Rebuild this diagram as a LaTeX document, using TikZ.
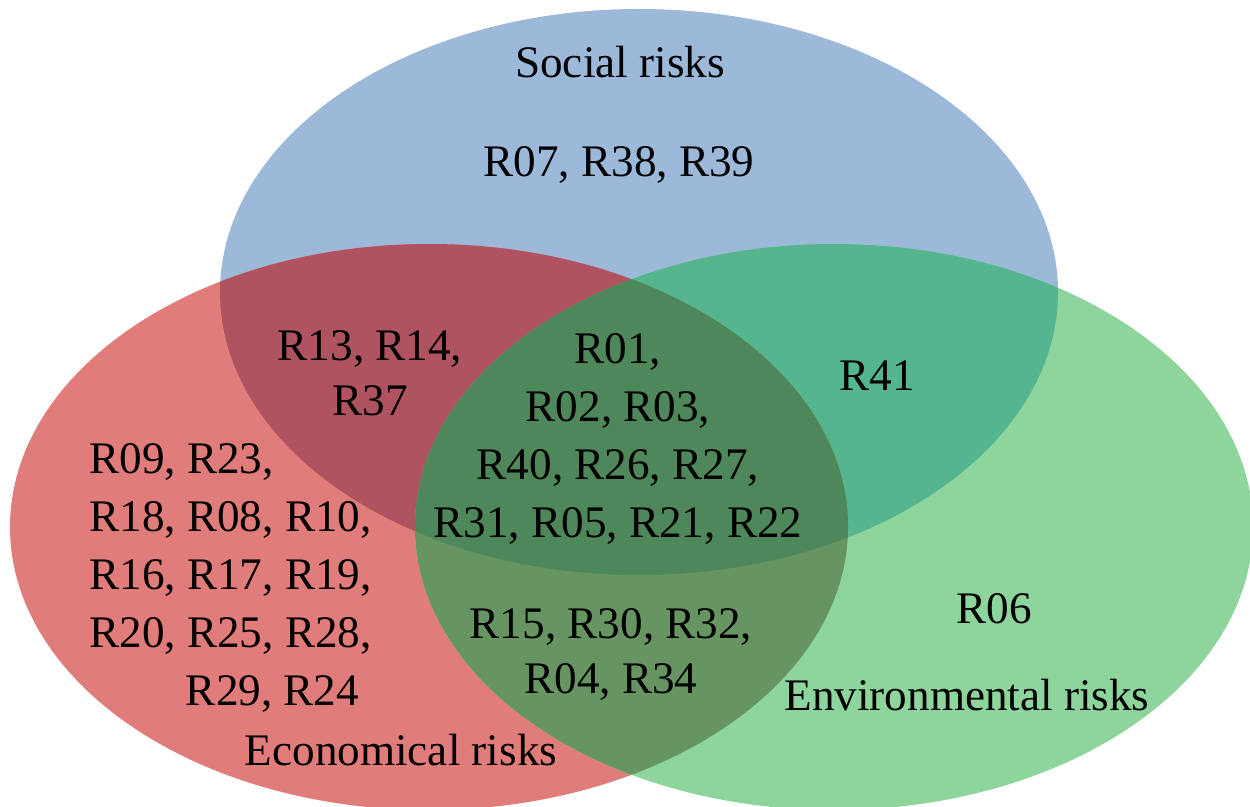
\documentclass[tikz,border=0pt]{standalone}
\usepackage{fontspec}
\setmainfont{Liberation Serif}
\definecolor{socialblue}{RGB}{157,185,218}
\definecolor{ecored}{RGB}{224,124,122}
\definecolor{envgreen}{RGB}{141,212,157}
\definecolor{socecored}{RGB}{176,83,97}
\definecolor{socenvgreen}{RGB}{84,181,143}
\definecolor{ecoenvgreen}{RGB}{102,149,98}
\definecolor{allgreen}{RGB}{78,135,89}
\begin{document}
\begin{tikzpicture}[x=0.02cm, y=-0.02cm,
  every node/.style = {inner sep=0pt, anchor=base,
    font=\fontsize{25.7}{33}\selectfont},
  risks/.style = {align=center},
  tight/.style = {align=center, font=\fontsize{25.7}{31.3}\selectfont},
  set/.style = {x radius=419, y radius=283}]
  \useasboundingbox (0,0) rectangle (1250,807);
  \clip (0,0) rectangle (1250,807);
  \coordinate (soc) at (639,292);
  \coordinate (eco) at (429,527);
  \coordinate (env) at (834,527);
  % the three sets
  \fill[socialblue] (soc) ellipse [set];
  \fill[ecored] (eco) ellipse [set];
  \fill[envgreen] (env) ellipse [set];
  % overlaps
  \begin{scope}
    \clip (soc) ellipse [set];
    \fill[socecored] (eco) ellipse [set];
    \fill[socenvgreen] (env) ellipse [set];
  \end{scope}
  \begin{scope}
    \clip (eco) ellipse [set];
    \fill[ecoenvgreen] (env) ellipse [set];
    \clip (env) ellipse [set];
    \fill[allgreen] (soc) ellipse [set];
  \end{scope}
  % labels (base = last line)
  \node (social) at (620,78) {Social risks};
  \node (socOnly) at (619,177) {R07, R38, R39};
  \node[tight] (socEco) at (370,415) {R13, R14,\\R37};
  \node[risks] (all) at (618,537) {R01,\\R02, R03,\\R40, R26, R27,\\R31, R05, R21, R22};
  \node (socEnv) at (877,390) {R41};
  \node[align=left, anchor=base west] (ecoOnly) at (89,705)
    {R09, R23,\\R18, R08, R10,\\R16, R17, R19,\\R20, R25, R28,\\\hspace*{55pt}R29, R24};
  \node[tight] (ecoEnv) at (611,693) {R15, R30, R32,\\R04, R34};
  \node (envOnly) at (994,623) {R06};
  \node (economical) at (401,765) {Economical risks};
  \node (environmental) at (967,710) {Environmental risks};
\end{tikzpicture}
\end{document}
